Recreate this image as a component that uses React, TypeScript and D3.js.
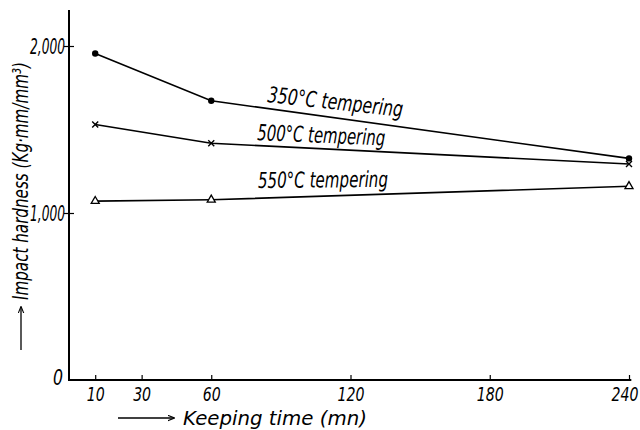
import React, { useEffect, useRef } from 'react';
import * as d3 from 'd3';

// keeping time (mn) and impact hardness (Kg·mm/mm³)
const keepingTimes = [10, 60, 240];
const hardness350 = [1955, 1672, 1327];
const hardness500 = [1530, 1418, 1293];
const hardness550 = [1071, 1079, 1160];
const seriesNames = ['350°C  tempering', '500°C tempering', '550°C tempering'];
const xTickValues = [10, 30, 60, 120, 180, 240];
const yTickValues = [0, 1000, 2000];

const FONT = "'Liberation Sans Narrow', 'DejaVu Sans Condensed', 'Arial Narrow', sans-serif";

const App = () => {
  const ref = useRef<SVGSVGElement>(null);

  useEffect(() => {
    const width = 640;
    const height = 430;
    const svg = d3.select(ref.current).attr('width', width).attr('height', height);
    svg.selectAll('*').remove();

    const x = d3.scaleLinear().domain([0, 240]).range([72, 629]);
    const y = d3.scaleLinear().domain([0, 2000]).range([380, 46]);

    svg.append('rect').attr('width', width).attr('height', height).attr('fill', '#fff');

    // axes lines
    svg
      .append('line')
      .attr('x1', 69)
      .attr('x2', 69)
      .attr('y1', y(2215))
      .attr('y2', y(0) + 1)
      .attr('stroke', '#000')
      .attr('stroke-width', 2);
    svg
      .append('line')
      .attr('x1', 69)
      .attr('x2', x(241))
      .attr('y1', y(0))
      .attr('y2', y(0))
      .attr('stroke', '#000')
      .attr('stroke-width', 2);

    // x ticks (pointing up) and labels
    const xAxis = svg
      .append('g')
      .attr('transform', `translate(0, ${y(0)})`)
      .call(d3.axisBottom(x).tickValues(xTickValues).tickSizeInner(-5).tickSizeOuter(0).tickPadding(8));
    xAxis.select('.domain').remove();
    xAxis.selectAll('line').attr('stroke', '#000').attr('stroke-width', 1.2);
    xAxis
      .selectAll('text')
      .attr('fill', '#000')
      .attr('textLength', (d: any) => String(d).length * 9)
      .attr('lengthAdjust', 'spacingAndGlyphs')
      .style('font-family', FONT)
      .style('font-style', 'italic')
      .style('font-size', '19px');
    xAxis
      .selectAll('.tick')
      .filter((d: any) => d === 240)
      .select('text')
      .attr('text-anchor', 'end')
      .attr('dx', 9);

    // y ticks and labels
    const yAxis = svg
      .append('g')
      .attr('transform', 'translate(69, 0)')
      .call(
        d3
          .axisLeft(y)
          .tickValues(yTickValues)
          .tickFormat(d3.format(','))
          .tickSizeInner(0)
          .tickSizeOuter(0)
          .tickPadding(4)
      );
    yAxis.select('.domain').remove();
    yAxis
      .selectAll('.tick')
      .filter((d: any) => d !== 0)
      .append('line')
      .attr('x1', -5)
      .attr('x2', 5)
      .attr('stroke', '#000')
      .attr('stroke-width', 1.2);
    yAxis
      .selectAll('text')
      .attr('fill', '#000')
      .attr('dy', '0.36em')
      .attr('textLength', (d: any) => (d === 0 ? 10 : 35))
      .attr('lengthAdjust', 'spacingAndGlyphs')
      .style('font-family', FONT)
      .style('font-style', 'italic')
      .style('font-size', '22px');
    yAxis
      .selectAll('.tick')
      .filter((d: any) => d === 0)
      .select('text')
      .attr('dx', -2)
      .attr('dy', '0.2em');

    // series lines
    const line = d3
      .line<number>()
      .x((_, i) => x(keepingTimes[i]))
      .y((d) => y(d));

    const series = [hardness350, hardness500, hardness550];
    series.forEach((s) => {
      svg
        .append('path')
        .attr('d', line(s))
        .attr('fill', 'none')
        .attr('stroke', '#000')
        .attr('stroke-width', 1.6);
    });

    // markers: dots, crosses, open triangles
    svg
      .selectAll('.dot')
      .data(hardness350)
      .enter()
      .append('circle')
      .attr('cx', (_, i) => x(keepingTimes[i]))
      .attr('cy', (d) => y(d))
      .attr('r', 3.2)
      .attr('fill', '#000');

    svg
      .selectAll('.cross')
      .data(hardness500)
      .enter()
      .append('path')
      .attr('transform', (d, i) => `translate(${x(keepingTimes[i])}, ${y(d)})`)
      .attr('d', 'M-3,-3L3,3M-3,3L3,-3')
      .attr('stroke', '#000')
      .attr('stroke-width', 1.4);

    svg
      .selectAll('.tri')
      .data(hardness550)
      .enter()
      .append('path')
      .attr('transform', (d, i) => `translate(${x(keepingTimes[i])}, ${y(d)})`)
      .attr('d', d3.symbol(d3.symbolTriangle, 28)())
      .attr('fill', '#fff')
      .attr('stroke', '#000')
      .attr('stroke-width', 1.3);

    // series labels along the lines
    const labelPos = [
      { x: 267, y: 102, a: 6.3, len: 136 },
      { x: 257, y: 140, a: 2.5, len: 128 },
      { x: 258, y: 188, a: -0.5, len: 130 },
    ];
    seriesNames.forEach((name, i) => {
      const p = labelPos[i];
      svg
        .append('text')
        .attr('transform', `translate(${p.x}, ${p.y}) rotate(${p.a})`)
        .attr('textLength', p.len)
        .attr('lengthAdjust', 'spacingAndGlyphs')
        .style('font-family', FONT)
        .style('font-style', 'italic')
        .style('font-size', '22px')
        .attr('fill', '#000')
        .text(name);
    });

    // arrow marker
    svg
      .append('defs')
      .append('marker')
      .attr('id', 'arr')
      .attr('viewBox', '0 0 10 10')
      .attr('refX', 9)
      .attr('refY', 5)
      .attr('markerWidth', 7)
      .attr('markerHeight', 7)
      .attr('markerUnits', 'userSpaceOnUse')
      .attr('orient', 'auto')
      .append('path')
      .attr('d', 'M0,1L10,5L0,9')
      .attr('fill', 'none')
      .attr('stroke', '#000')
      .attr('stroke-width', 1.5);

    // x title
    svg
      .append('line')
      .attr('x1', 118)
      .attr('x2', 174)
      .attr('y1', 418)
      .attr('y2', 418)
      .attr('stroke', '#000')
      .attr('stroke-width', 1.3)
      .attr('marker-end', 'url(#arr)');
    svg
      .append('text')
      .attr('x', 183)
      .attr('y', 425)
      .attr('textLength', 184)
      .attr('lengthAdjust', 'spacingAndGlyphs')
      .style('font-family', FONT)
      .style('font-style', 'italic')
      .style('font-size', '20px')
      .attr('fill', '#000')
      .text('Keeping  time  (mn)');

    // y title
    svg
      .append('line')
      .attr('x1', 21)
      .attr('x2', 21)
      .attr('y1', 350)
      .attr('y2', 307)
      .attr('stroke', '#000')
      .attr('stroke-width', 1.3)
      .attr('marker-end', 'url(#arr)');
    svg
      .append('text')
      .attr('transform', 'translate(28, 300) rotate(-90)')
      .attr('textLength', 238)
      .attr('lengthAdjust', 'spacingAndGlyphs')
      .style('font-family', FONT)
      .style('font-style', 'italic')
      .style('font-size', '21px')
      .attr('fill', '#000')
      .text('Impact hardness (Kg·mm/mm³)');
  }, []);

  return <svg ref={ref} style={{ position: 'absolute', left: 0, top: 0, display: 'block' }}></svg>;
};

export default App;
